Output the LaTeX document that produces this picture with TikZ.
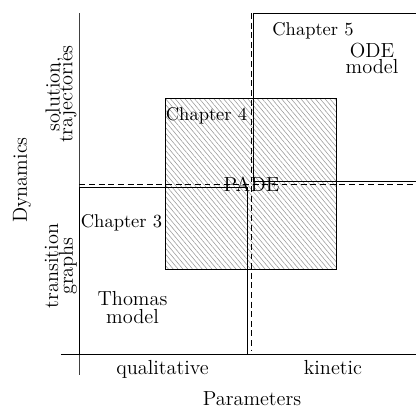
\documentclass[tikz,border=0pt]{standalone}
\usetikzlibrary{patterns.meta}
\begin{document}
\begin{tikzpicture}[x=0.5405pt,y=-0.5405pt,
  every node/.style={inner sep=0pt, outer sep=0pt},
  chap/.style={font=\fontsize{10}{12}\selectfont},
  big/.style={font=\fontsize{11}{13}\selectfont},
  twoline/.style={big, align=center},
  frame/.style={line width=0.45pt},
  axis/.style={line width=0.5pt},
  guide/.style={line width=0.45pt, dash pattern=on 3.2pt off 2pt},
  hatch/.style={frame, pattern={Lines[angle=-50, distance=2pt, line width=0.3pt]},
    pattern color=black!40},
]
\useasboundingbox (0,0) rectangle (416,408);

% axes
\coordinate (origin) at (79.5,354.5);
\draw[axis, black!75] (79.5,13) -- (79.5,375);
\draw[axis] (61,354.5) -- (416,354.5);

% Chapter 4 region (hatched)
\draw[hatch] (165.5,98.5) rectangle (336,269);

% Chapter 3 region
\draw[frame] (79.5,187.5) rectangle (247,354.5);

% Chapter 5 region (open to the right)
\draw[frame] (416,13) -- (253,13) -- (253,181) -- (416,181);

% dashed guides through PADE
\coordinate (hl) at (79.5,184);
\coordinate (hr) at (416,184);
\coordinate (vt) at (251,13);
\coordinate (vb) at (251,351);
\draw[guide] (hl) -- (hr);
\draw[guide] (vt) -- (vb);

% labels
\node[chap, anchor=base] (c5) at (313,35) {Chapter 5};
\node[twoline] (ode) at (372,58) {ODE\\[-4.4pt]model};
\node[chap, anchor=base] (c4) at (206.5,120) {Chapter 4};
\node[big] (pade) at (251.5,184) {PADE};
\node[chap, anchor=base] (c3) at (121.5,227) {Chapter 3};
\node[twoline] (thomas) at (132.5,307.5) {Thomas\\[-3.6pt]model};

\node[twoline, rotate=90] (sol) at (61,94) {solution,\\[-6pt]trajectories};
\node[twoline, rotate=90] (trans) at (61,266) {transition\\[-5pt]graphs};
\node[big, rotate=90] (dyn) at (22,180) {Dynamics};

\node[big, anchor=base] (qual) at (162.5,374) {qualitative};
\node[big, anchor=base] (kin) at (333,374) {kinetic};
\node[big, anchor=base] (par) at (252,405) {Parameters};
\end{tikzpicture}
\end{document}
